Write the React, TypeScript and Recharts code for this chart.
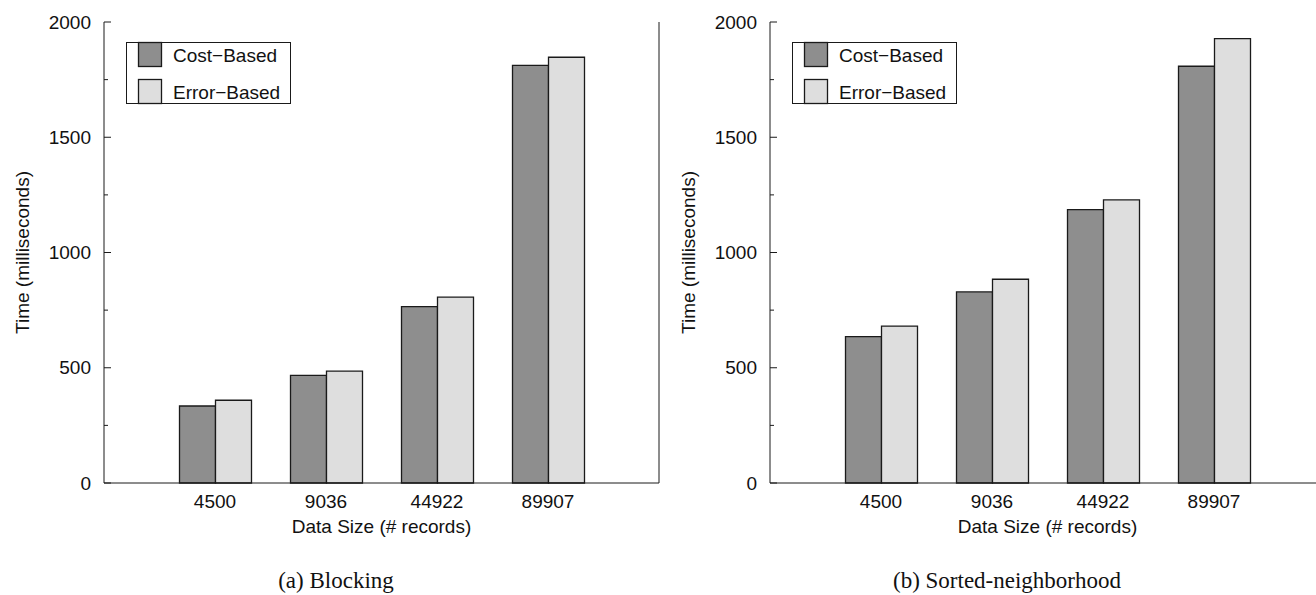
import { BarChart, Bar, XAxis, YAxis, Legend } from "recharts";

const sizes = ["4500", "9036", "44922", "89907"];
const blockingCost = [334, 467, 765, 1812];
const blockingError = [359, 485, 806, 1847];
const sortedCost = [635, 829, 1186, 1808];
const sortedError = [681, 884, 1228, 1928];
const yTicks = [0, 250, 500, 750, 1000, 1250, 1500, 1750, 2000];

const SANS = "'Liberation Sans', Arial, Helvetica, sans-serif";
const SERIF = "'Liberation Serif', 'Times New Roman', serif";
const COST_FILL = "#8e8e8e";
const ERROR_FILL = "#dedede";
const INK = "#1a1a1a";

const W = 680;
const H = 595;

function LeftTick(props: any) {
  const { x, y, payload } = props;
  const axisX = x + 13;
  const major = payload.value % 500 === 0;
  return (
    <g>
      <line x1={axisX} x2={axisX + (major ? 7 : 4)} y1={y} y2={y} stroke={INK} strokeWidth={1} />
      {major && (
        <text x={x} y={y} dy="0.355em" textAnchor="end" fontFamily={SANS} fontSize={19} fill="#111">
          {payload.value}
        </text>
      )}
    </g>
  );
}

function RightTick(props: any) {
  const { x, y, payload } = props;
  const major = payload.value % 500 === 0;
  return <line x1={x - (major ? 7 : 4)} x2={x} y1={y} y2={y} stroke={INK} strokeWidth={1} />;
}

function LegendBox() {
  const rows = [
    { label: "Cost\u2212Based", fill: COST_FILL, y: 0 },
    { label: "Error\u2212Based", fill: ERROR_FILL, y: 37 },
  ];
  return (
    <svg width={166} height={63} style={{ display: "block", overflow: "visible" }}>
      <rect x={0.5} y={0.5} width={164} height={61} fill="#fff" stroke={INK} strokeWidth={1} />
      {rows.map((r) => (
        <g key={r.label}>
          <rect x={12.5} y={r.y + 0.5} width={23} height={24} fill={r.fill} stroke={INK} strokeWidth={1.3} />
          <text x={47} y={r.y + 13} dy="0.355em" fontFamily={SANS} fontSize={19} fill="#111">
            {r.label}
          </text>
        </g>
      ))}
    </svg>
  );
}

function Panel({
  cost,
  error,
  left,
  caption,
  captionX,
}: {
  cost: number[];
  error: number[];
  left: number;
  caption: string;
  captionX: number;
}) {
  const data = sizes.map((s, i) => ({ size: s, cost: cost[i], error: error[i] }));
  return (
    <div style={{ position: "absolute", left, top: 0, width: W, height: H }}>
      <BarChart
        width={W}
        height={H}
        data={data}
        margin={{ top: 22, right: 20, bottom: 52, left: 44 }}
        barSize={36}
        barGap={0}
      >
        <XAxis
          dataKey="size"
          height={60}
          interval={0}
          tickLine={false}
          tickSize={0}
          tickMargin={12}
          padding={{ left: 55.5, right: 55.5 }}
          axisLine={{ stroke: INK, strokeWidth: 1 }}
          tick={{ fontFamily: SANS, fontSize: 19, fill: "#111" }}
          label={{
            value: "Data Size (# records)",
            position: "insideBottom",
            offset: 10,
            fontFamily: SANS,
            fontSize: 19,
            fill: "#111",
          }}
        />
        <XAxis
          xAxisId="t"
          dataKey="size"
          orientation="top"
          height={0}
          tick={false}
          tickLine={false}
          axisLine={{ stroke: INK, strokeWidth: 1 }}
        />
        <YAxis
          width={60}
          domain={[0, 2000]}
          ticks={yTicks}
          interval={0}
          tickLine={false}
          tickSize={0}
          tickMargin={13}
          axisLine={{ stroke: INK, strokeWidth: 1 }}
          tick={<LeftTick />}
          label={{
            content: () => (
              <text
                x={22}
                y={252.5}
                transform="rotate(-90 22 252.5)"
                textAnchor="middle"
                dy="0.355em"
                fontFamily={SANS}
                fontSize={19}
                fill="#111"
              >
                Time (milliseconds)
              </text>
            ),
          }}
        />
        <YAxis
          yAxisId="r"
          orientation="right"
          width={1}
          domain={[0, 2000]}
          ticks={yTicks}
          interval={0}
          tickLine={false}
          tickSize={0}
          tickMargin={0}
          axisLine={{ stroke: INK, strokeWidth: 1 }}
          tick={<RightTick />}
        />
        <Legend
          layout="vertical"
          align="center"
          verticalAlign="middle"
          wrapperStyle={{ left: 126, top: 42, width: 166, height: 63 }}
          content={() => <LegendBox />}
        />
        <Bar dataKey="cost" name="Cost-Based" fill={COST_FILL} stroke={INK} strokeWidth={1.3} isAnimationActive={false} />
        <Bar dataKey="error" name="Error-Based" fill={ERROR_FILL} stroke={INK} strokeWidth={1.3} isAnimationActive={false} />
      </BarChart>
      <svg width={W} height={H} style={{ position: "absolute", left: 0, top: 0, pointerEvents: "none" }}>
        <text x={captionX} y={588} textAnchor="middle" fontFamily={SERIF} fontSize={23} fill="#111">
          {caption}
        </text>
      </svg>
    </div>
  );
}

export default function App() {
  return (
    <div
      style={{
        position: "absolute",
        left: 0,
        top: 0,
        width: 1316,
        height: 595,
        overflow: "hidden",
        background: "#fff",
      }}
    >
      <Panel cost={blockingCost} error={blockingError} left={0} caption="(a) Blocking" captionX={336} />
      <Panel
        cost={sortedCost}
        error={sortedError}
        left={666}
        caption="(b) Sorted-neighborhood"
        captionX={341}
      />
    </div>
  );
}
